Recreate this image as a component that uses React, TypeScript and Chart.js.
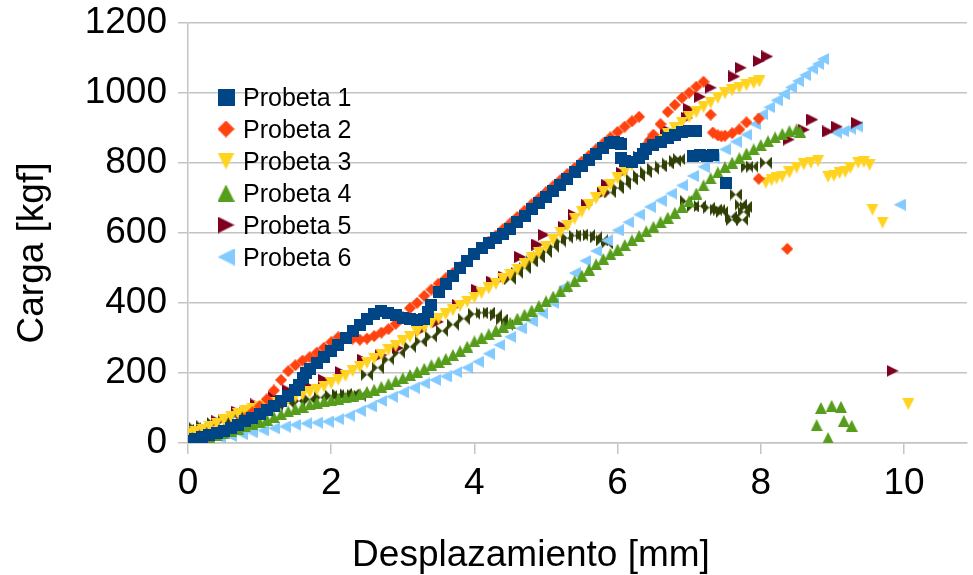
import { useEffect, useRef } from "react";
import { Chart, registerables } from "chart.js";

Chart.register(...registerables);

const FONT = '"Liberation Sans", Arial, sans-serif';
const X_TITLE = "Desplazamiento [mm]";
const Y_TITLE = "Carga [kgf]";
const SERIES_NAMES = ["Probeta 1", "Probeta 2", "Probeta 3", "Probeta 4", "Probeta 5", "Probeta 6", ""];
const X_MIN = 0;
const X_MAX = 10.88;
const X_STEP = 2;
const Y_MIN = 0;
const Y_MAX = 1200;
const Y_STEP = 200;

// Probeta 1
const p1X = [0,0.05,0.1,0.2,0.3,0.4,0.5,0.6,0.7,0.8,0.9,1.0,1.1,1.2,1.3,1.4,1.5,1.55,1.6,1.65,1.7,1.8,1.9,2.0,2.1,2.2,2.3,2.4,2.5,2.6,2.7,2.8,2.9,3.0,3.1,3.2,3.3,3.35,3.4,3.5,3.6,3.7,3.8,3.9,4.0,4.1,4.2,4.3,4.4,4.5,4.6,4.7,4.8,4.9,5.0,5.1,5.2,5.3,5.4,5.5,5.6,5.7,5.8,5.9,5.95,6.0,6.05,6.05,6.1,6.2,6.3,6.35,6.4,6.5,6.6,6.7,6.8,6.9,7.0,7.1,7.05,7.15,7.25,7.33,7.51];
const p1Y = [3,6,10,16,22,28,35,43,52,62,72,82,94,106,120,135,150,165,185,200,212,228,246,262,280,300,320,338,355,368,376,372,364,358,355,352,355,375,395,430,455,478,500,520,540,556,571,585,597,612,630,648,667,685,703,720,737,754,772,790,808,826,843,856,858,855,852,812,806,803,812,825,838,850,860,870,880,887,889,889,820,822,820,822,743];

// Probeta 2
const p2X = [0,0.1,0.2,0.3,0.4,0.5,0.6,0.7,0.8,0.9,1.0,1.1,1.2,1.3,1.4,1.5,1.6,1.7,1.8,1.9,2.0,2.1,2.2,2.3,2.4,2.5,2.6,2.7,2.8,2.9,3.0,3.1,3.2,3.3,3.4,3.5,3.6,3.7,3.8,3.9,4.0,4.1,4.2,4.3,4.4,4.5,4.6,4.7,4.8,4.9,5.0,5.1,5.2,5.3,5.4,5.5,5.6,5.7,5.8,5.9,6.0,6.1,6.2,6.3,6.4,6.45,6.5,6.6,6.7,6.8,6.9,7.0,7.1,7.2,7.3,7.33,7.4,7.45,7.5,7.6,7.7,7.8,7.97,7.97,8.37];
const p2Y = [5,10,15,21,28,36,45,56,70,88,105,125,150,180,205,222,235,245,258,272,288,302,300,298,295,298,305,315,325,340,360,385,400,420,438,455,470,485,502,520,540,557,575,592,610,627,645,663,681,698,716,733,750,768,785,803,820,838,855,872,888,903,918,931,850,865,880,910,945,965,985,1000,1017,1031,937,886,878,875,877,884,895,915,926,754,554];

// Probeta 3
const p3X = [0,0.1,0.2,0.3,0.4,0.5,0.6,0.7,0.8,0.9,1.0,1.1,1.2,1.3,1.4,1.5,1.6,1.7,1.8,1.9,2.0,2.1,2.2,2.3,2.4,2.5,2.6,2.7,2.8,2.9,3.0,3.1,3.2,3.3,3.4,3.5,3.6,3.7,3.8,3.9,4.0,4.1,4.2,4.3,4.4,4.5,4.6,4.7,4.8,4.9,5.0,5.1,5.2,5.3,5.4,5.5,5.6,5.7,5.8,5.9,6.0,6.1,6.2,6.3,6.4,6.5,6.6,6.7,6.8,6.9,7.0,7.1,7.2,7.3,7.4,7.5,7.6,7.7,7.8,7.9,7.98,8.07,8.15,8.22,8.3,8.4,8.5,8.6,8.7,8.8,8.94,9.02,9.1,9.18,9.25,9.36,9.44,9.52,9.56,9.7,10.06];
const p3Y = [25,31,38,46,55,65,75,83,90,97,103,109,115,121,126,132,138,145,152,161,170,181,192,205,217,229,240,252,265,277,290,303,316,329,342,355,367,379,391,403,415,428,441,454,467,480,495,511,527,543,560,580,600,620,640,660,679,698,717,736,755,774,793,812,831,850,866,882,898,914,930,944,958,971,985,998,1006,1014,1021,1027,1032,743,750,755,760,772,786,795,800,805,760,763,770,774,785,800,802,794,666,629,111];

// Probeta 4
const p4X = [0,0.1,0.2,0.3,0.4,0.5,0.6,0.7,0.8,0.9,1.0,1.1,1.2,1.3,1.4,1.5,1.6,1.7,1.8,1.9,2.0,2.1,2.2,2.3,2.4,2.5,2.6,2.7,2.8,2.9,3.0,3.1,3.2,3.3,3.4,3.5,3.6,3.7,3.8,3.9,4.0,4.1,4.2,4.3,4.4,4.5,4.6,4.7,4.8,4.9,5.0,5.1,5.2,5.3,5.4,5.5,5.6,5.7,5.8,5.9,6.0,6.1,6.2,6.3,6.4,6.5,6.6,6.7,6.8,6.9,7.0,7.1,7.2,7.3,7.4,7.5,7.6,7.7,7.8,7.9,8.0,8.1,8.2,8.3,8.4,8.5,8.55,8.84,8.99,9.12,8.78,9.16,9.27,8.94];
const p4Y = [5,8,12,17,22,28,35,41,48,54,60,67,74,82,90,97,104,110,115,119,122,126,130,135,140,146,152,160,168,176,185,194,203,212,222,231,240,251,262,275,290,300,310,321,332,343,355,366,378,391,404,418,433,447,462,478,495,510,525,539,552,565,578,591,604,617,630,643,657,673,690,712,735,755,772,787,800,813,826,838,850,861,872,882,890,895,888,100,106,103,51,63,49,14];

// Probeta 5
const p5X = [0,0.2,0.41,0.69,0.95,1.2,1.4,1.65,1.9,2.13,2.45,2.7,2.93,3.26,3.49,3.77,4.04,4.25,4.42,4.64,4.88,4.97,5.25,5.39,5.57,5.8,5.85,6.06,6.3,6.5,6.68,6.97,7.0,7.15,7.3,7.63,7.72,7.97,8.09,8.39,8.6,8.72,8.94,9.06,9.34,9.84];
const p5Y = [15,35,62,89,110,131,150,165,180,203,237,251,271,323,346,394,437,460,474,531,566,594,617,651,680,714,737,771,815,855,894,928,953,988,1014,1046,1071,1090,1103,866,894,923,889,903,914,206];

// Probeta 6
const p6X = [0,0.15,0.3,0.45,0.6,0.75,0.9,1.05,1.2,1.35,1.5,1.65,1.8,1.95,2.1,2.25,2.4,2.55,2.7,2.85,3.0,3.15,3.3,3.45,3.6,3.75,3.9,4.05,4.2,4.35,4.5,4.65,4.8,4.95,5.1,5.25,5.4,5.55,5.7,5.85,6.0,6.15,6.3,6.45,6.6,6.75,6.9,7.05,7.2,7.35,7.5,7.65,7.8,7.92,8.02,8.12,8.22,8.32,8.42,8.52,8.62,8.72,8.8,8.87,9.05,9.15,9.25,9.35,9.94];
const p6Y = [0,5,10,15,20,26,30,36,42,47,52,56,58,61,68,78,92,105,120,132,145,158,170,180,190,202,215,232,255,280,303,327,348,370,400,445,485,520,548,578,607,630,652,674,692,712,735,762,788,812,838,860,880,910,938,958,978,996,1015,1033,1050,1068,1082,1096,886,890,897,903,680];

// Unlabelled 7th series (not in legend)
const p7X = [0,0.1,0.2,0.35,0.5,0.65,0.8,0.95,1.1,1.25,1.4,1.55,1.7,1.85,2.0,2.1,2.2,2.3,2.4,2.5,2.65,2.8,2.95,3.1,3.25,3.4,3.55,3.7,3.85,4.0,4.1,4.2,4.3,4.38,4.46,4.5,4.6,4.7,4.8,4.9,5.0,5.1,5.2,5.3,5.4,5.5,5.6,5.7,5.78,5.85,5.9,6.0,6.1,6.2,6.3,6.4,6.5,6.6,6.7,6.8,6.86,6.96,7.05,7.15,7.28,7.37,7.42,7.46,7.58,7.6,7.65,7.72,7.74,7.76,7.79,7.81,7.88,8.07];
const p7Y = [38,42,48,57,65,75,85,93,100,107,115,120,125,130,135,138,140,138,135,195,215,238,258,275,290,303,320,338,355,368,372,372,364,352,337,468,485,500,518,530,545,560,575,585,592,595,593,587,578,570,715,728,740,752,762,772,782,790,798,806,810,690,675,676,672,666,666,660,646,637,709,680,637,660,674,789,789,800];

const COLORS = ["#004586", "#ff420e", "#ffd320", "#579d1c", "#7e0021", "#83caff", "#314004"];
const SHAPES = ["square", "diamond", "down", "up", "right", "left", "bowtie"];
const SERIES_X = [p1X, p2X, p3X, p4X, p5X, p6X, p7X];
const SERIES_Y = [p1Y, p2Y, p3Y, p4Y, p5Y, p6Y, p7Y];
const LEGEND_COUNT = 6;

const GRID = "#c4c4c4";

function makeMarker(shape: string, color: string, s: number): HTMLCanvasElement {
  const c = document.createElement("canvas");
  c.width = s;
  c.height = s;
  const g = c.getContext("2d")!;
  g.fillStyle = color;
  g.beginPath();
  switch (shape) {
    case "square":
      g.rect(0, 0, s, s);
      break;
    case "diamond":
      g.moveTo(s / 2, 0); g.lineTo(s, s / 2); g.lineTo(s / 2, s); g.lineTo(0, s / 2);
      break;
    case "down":
      g.moveTo(0, 0); g.lineTo(s, 0); g.lineTo(s / 2, s);
      break;
    case "up":
      g.moveTo(s / 2, 0); g.lineTo(s, s); g.lineTo(0, s);
      break;
    case "right":
      g.moveTo(0, 0); g.lineTo(s, s / 2); g.lineTo(0, s);
      break;
    case "left":
      g.moveTo(s, 0); g.lineTo(0, s / 2); g.lineTo(s, s);
      break;
    case "bowtie":
      g.moveTo(0, 0); g.lineTo(s, s); g.lineTo(s, 0); g.lineTo(0, s);
      break;
  }
  g.closePath();
  g.fill();
  return c;
}

export default function App() {
  const ref = useRef<HTMLCanvasElement | null>(null);

  useEffect(() => {
    if (!ref.current) return;
    const markers = SHAPES.map((sh, i) => makeMarker(sh, COLORS[i], 12));
    const legendMarkers = SHAPES.map((sh, i) => makeMarker(sh, COLORS[i], 17));

    const overlay = {
      id: "overlay",
      afterDraw(chart: any) {
        const ctx = chart.ctx as CanvasRenderingContext2D;
        ctx.save();
        ctx.fillStyle = "#000";
        ctx.font = `37px ${FONT}`;
        ctx.textAlign = "center";
        ctx.textBaseline = "alphabetic";
        ctx.fillText(X_TITLE, 531, 566);
        ctx.save();
        ctx.translate(43, 253);
        ctx.rotate(-Math.PI / 2);
        ctx.fillText(Y_TITLE, 0, 0);
        ctx.restore();
        ctx.font = `25px ${FONT}`;
        ctx.textAlign = "left";
        for (let i = 0; i < LEGEND_COUNT; i++) {
          const cy = 97 + i * 32;
          const m = legendMarkers[i];
          ctx.drawImage(m, 226 - m.width / 2, cy - m.height / 2);
          ctx.fillText(SERIES_NAMES[i], 243, cy + 8.5);
        }
        ctx.restore();
      },
    };

    const chart = new Chart(ref.current, {
      type: "scatter",
      data: {
        datasets: SERIES_X.map((xs, i) => ({
          label: SERIES_NAMES[i],
          data: xs.map((x, j) => ({ x, y: SERIES_Y[i][j] })),
          pointStyle: markers[i] as any,
          pointRadius: 6,
          pointBorderWidth: 0,
          backgroundColor: COLORS[i],
          borderColor: COLORS[i],
        })),
      },
      options: {
        responsive: false,
        animation: false,
        devicePixelRatio: 1,
        events: [],
        layout: { padding: { top: 22.5, right: 0, left: 0, bottom: 0 } },
        plugins: {
          legend: { display: false },
          tooltip: { enabled: false },
          title: { display: false },
        },
        scales: {
          x: {
            type: "linear",
            min: X_MIN,
            max: X_MAX,
            border: { display: true, color: GRID, width: 1.5 },
            grid: { drawOnChartArea: false, drawTicks: true, tickLength: 11, color: GRID, lineWidth: 1.5 },
            ticks: {
              stepSize: X_STEP,
              includeBounds: false,
              padding: 8,
              color: "#000",
              maxRotation: 0,
              font: { family: FONT, size: 37 },
              callback: (v: any) => String(v),
            },
            afterFit: (s: any) => {
              s.height = 132;
              s.paddingLeft = 0;
              s.paddingRight = 0;
            },
          },
          y: {
            type: "linear",
            min: Y_MIN,
            max: Y_MAX,
            border: { display: true, color: GRID, width: 1.5 },
            grid: { color: GRID, tickLength: 10, lineWidth: 1.5 },
            ticks: {
              stepSize: Y_STEP,
              padding: 11,
              color: "#000",
              font: { family: FONT, size: 37 },
              callback: (v: any) => String(v),
            },
            afterFit: (s: any) => {
              s.width = 188;
              s.paddingTop = 0;
              s.paddingBottom = 0;
            },
          },
        },
      },
      plugins: [overlay],
    });
    return () => chart.destroy();
  }, []);

  return (
    <div style={{ position: "absolute", left: 0, top: 0, width: 973, height: 575, background: "#fff" }}>
      <canvas ref={ref} width={973} height={575} style={{ display: "block" }} />
    </div>
  );
}
